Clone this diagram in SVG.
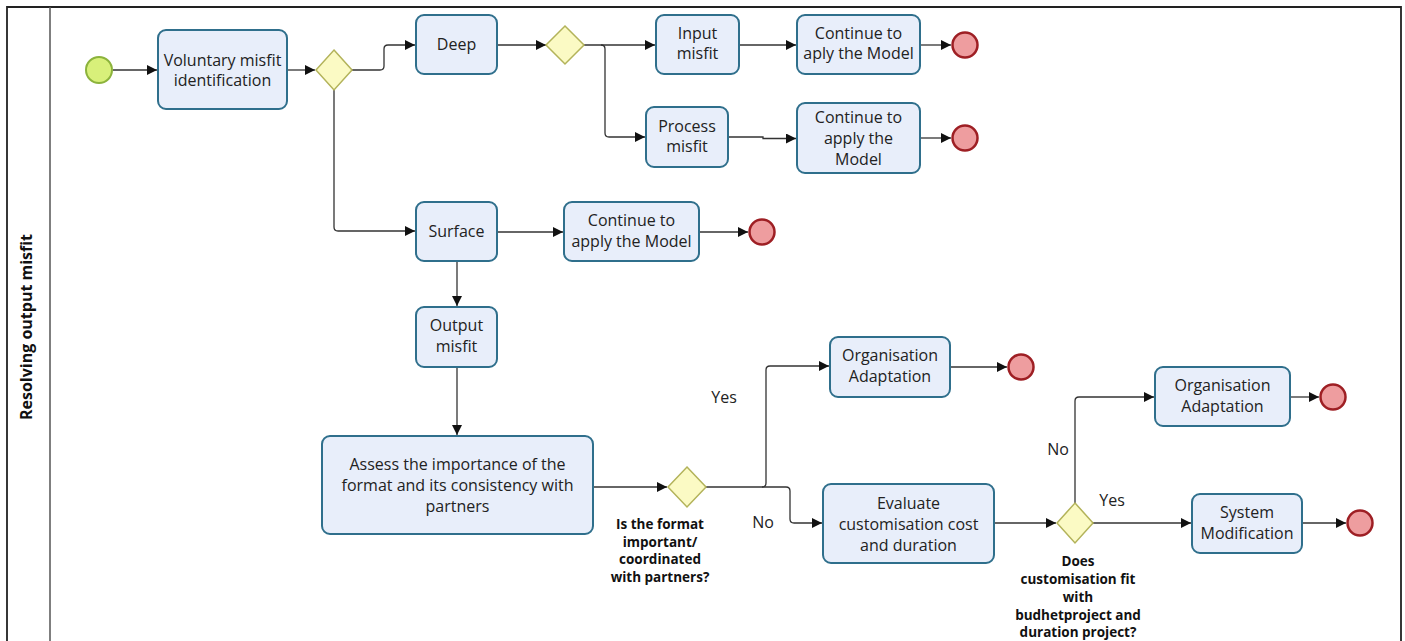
<svg xmlns="http://www.w3.org/2000/svg" width="1405" height="641" viewBox="0 0 1405 641">
<defs>
<marker id="arr" viewBox="0 0 10 10" refX="10" refY="5" markerWidth="10" markerHeight="10" markerUnits="userSpaceOnUse" orient="auto">
<path d="M0,0 L10,5 L0,10 Z" fill="#111"/>
</marker>
<style>
.task{fill:#e8eefa;stroke:#2f6f8c;stroke-width:2}
.gw{fill:#fbfac4;stroke:#b3b35a;stroke-width:1.5}
.start{fill:#d8f07a;stroke:#8cb33c;stroke-width:2}
.end{fill:#ee9d9f;stroke:#9e1f24;stroke-width:2.5}
.t{font-family:"Open Sans","Noto Sans",sans-serif;font-size:16px;fill:#222;text-anchor:middle}
.q{font-family:"Open Sans","Noto Sans",sans-serif;font-size:13.5px;font-weight:bold;fill:#111;text-anchor:middle}
.c{fill:none;stroke:#333;stroke-width:1.3}
</style>
</defs>
<rect x="0" y="0" width="1405" height="641" fill="#fff"/>
<g id="pool">
<path d="M7,641 V7 H1401 V641" fill="none" stroke="#222" stroke-width="1.8"/>
<line x1="50" y1="7" x2="50" y2="641" stroke="#555" stroke-width="1.5"/>
<text x="28" y="327" transform="rotate(-90 28 327)" font-family="Open Sans, Noto Sans, sans-serif" font-size="16" font-weight="bold" fill="#111" text-anchor="middle" dominant-baseline="middle">Resolving output misfit</text>
</g>
<g id="connectors">
<path class="c" marker-end="url(#arr)" d="M113,70 H157"/>
<path class="c" marker-end="url(#arr)" d="M287,70 H315"/>
<path class="c" marker-end="url(#arr)" d="M352,70 H380 Q384,70 384,66 V49 Q384,45 388,45 H415"/>
<path class="c" marker-end="url(#arr)" d="M334,89 V227 Q334,231 338,231 H415"/>
<path class="c" marker-end="url(#arr)" d="M497,45 H546"/>
<path class="c" marker-end="url(#arr)" d="M584,45 H655"/>
<path class="c" marker-end="url(#arr)" d="M601,45 Q605,45 605,49 V133 Q605,137 609,137 H645"/>
<path class="c" marker-end="url(#arr)" d="M739,45 H796"/>
<path class="c" marker-end="url(#arr)" d="M920,45 H951"/>
<path class="c" marker-end="url(#arr)" d="M728,137 H763 V138.5 H796"/>
<path class="c" marker-end="url(#arr)" d="M920,138 H951"/>
<path class="c" marker-end="url(#arr)" d="M497,232 H563"/>
<path class="c" marker-end="url(#arr)" d="M699,232 H748"/>
<path class="c" marker-end="url(#arr)" d="M457,261 V306"/>
<path class="c" marker-end="url(#arr)" d="M457,367 V435"/>
<path class="c" marker-end="url(#arr)" d="M593,487 H667"/>
<path class="c" marker-end="url(#arr)" d="M706,487 H786 Q790,487 790,491 V519 Q790,523 794,523 H822"/>
<path class="c" marker-end="url(#arr)" d="M762,487 Q766,487 766,483 V370 Q766,366 770,366 H829"/>
<path class="c" marker-end="url(#arr)" d="M950,367 H1007"/>
<path class="c" marker-end="url(#arr)" d="M994,523 H1056"/>
<path class="c" marker-end="url(#arr)" d="M1075,503 V401 Q1075,397 1079,397 H1154"/>
<path class="c" marker-end="url(#arr)" d="M1290,397 H1319"/>
<path class="c" marker-end="url(#arr)" d="M1093,523 H1191"/>
<path class="c" marker-end="url(#arr)" d="M1302,523 H1346"/>
</g>
<g id="start"><circle class="start" cx="99" cy="70" r="13"/></g>
<g id="task-voluntary"><rect class="task" x="158" y="30" width="129" height="79" rx="8"/><text class="t" x="222.5" y="66">Voluntary misfit</text><text class="t" x="222.5" y="86">identification</text></g>
<g id="gw1"><polygon class="gw" points="334,50 352,70 334,90 316,70"/></g>
<g id="task-deep"><rect class="task" x="416" y="15" width="81" height="59" rx="8"/><text class="t" x="456.5" y="50">Deep</text></g>
<g id="gw2"><polygon class="gw" points="565,26 584,45 565,64 546,45"/></g>
<g id="task-input"><rect class="task" x="656" y="15" width="83" height="59" rx="8"/><text class="t" x="697.5" y="39">Input</text><text class="t" x="697.5" y="59">misfit</text></g>
<g id="task-continue1"><rect class="task" x="797" y="15" width="123" height="59" rx="8"/><text class="t" x="858.5" y="39">Continue to</text><text class="t" x="858.5" y="59">aply the Model</text></g>
<g id="end1"><circle class="end" cx="965" cy="45" r="12.5"/></g>
<g id="task-process"><rect class="task" x="646" y="107" width="82" height="60" rx="8"/><text class="t" x="687" y="132">Process</text><text class="t" x="687" y="152">misfit</text></g>
<g id="task-continue2"><rect class="task" x="797" y="103" width="123" height="70" rx="8"/><text class="t" x="858.5" y="123">Continue to</text><text class="t" x="858.5" y="144">apply the</text><text class="t" x="858.5" y="165">Model</text></g>
<g id="end2"><circle class="end" cx="965" cy="138" r="12.5"/></g>
<g id="task-surface"><rect class="task" x="416" y="202" width="81" height="59" rx="8"/><text class="t" x="456.5" y="237">Surface</text></g>
<g id="task-continue3"><rect class="task" x="564" y="202" width="135" height="59" rx="8"/><text class="t" x="631.5" y="226">Continue to</text><text class="t" x="631.5" y="247">apply the Model</text></g>
<g id="end3"><circle class="end" cx="762" cy="232" r="12.5"/></g>
<g id="task-output"><rect class="task" x="416" y="307" width="81" height="60" rx="8"/><text class="t" x="456.5" y="331">Output</text><text class="t" x="456.5" y="352">misfit</text></g>
<g id="task-assess"><rect class="task" x="322" y="436" width="271" height="98" rx="8"/><text class="t" x="457.5" y="470">Assess the importance of the</text><text class="t" x="457.5" y="491">format and its consistency with</text><text class="t" x="457.5" y="512">partners</text></g>
<g id="gw3"><polygon class="gw" points="687,467 706,487 687,507 668,487"/><text class="q" x="660" y="529">Is the format</text><text class="q" x="660" y="547">important/</text><text class="q" x="660" y="564">coordinated</text><text class="q" x="660" y="582">with partners?</text></g>
<text class="t" x="724" y="403">Yes</text>
<text class="t" x="763" y="528">No</text>
<g id="task-org1"><rect class="task" x="830" y="337" width="120" height="60" rx="8"/><text class="t" x="890" y="361">Organisation</text><text class="t" x="890" y="382">Adaptation</text></g>
<g id="end4"><circle class="end" cx="1021" cy="367" r="12.5"/></g>
<g id="task-evaluate"><rect class="task" x="823" y="484" width="171" height="79" rx="8"/><text class="t" x="908.5" y="509">Evaluate</text><text class="t" x="908.5" y="530">customisation cost</text><text class="t" x="908.5" y="551">and duration</text></g>
<g id="gw4"><polygon class="gw" points="1075,503 1093,523 1075,543 1057,523"/><text class="q" x="1078" y="566">Does</text><text class="q" x="1078" y="584">customisation fit</text><text class="q" x="1078" y="602">with</text><text class="q" x="1078" y="620">budhetproject and</text><text class="q" x="1078" y="637">duration project?</text></g>
<text class="t" x="1058" y="455">No</text>
<text class="t" x="1112" y="506">Yes</text>
<g id="task-org2"><rect class="task" x="1155" y="367" width="135" height="59" rx="8"/><text class="t" x="1222.5" y="391">Organisation</text><text class="t" x="1222.5" y="412">Adaptation</text></g>
<g id="end5"><circle class="end" cx="1333" cy="397" r="12.5"/></g>
<g id="task-system"><rect class="task" x="1192" y="494" width="110" height="59" rx="8"/><text class="t" x="1247" y="518">System</text><text class="t" x="1247" y="539">Modification</text></g>
<g id="end6"><circle class="end" cx="1360" cy="523" r="12.5"/></g>
</svg>
